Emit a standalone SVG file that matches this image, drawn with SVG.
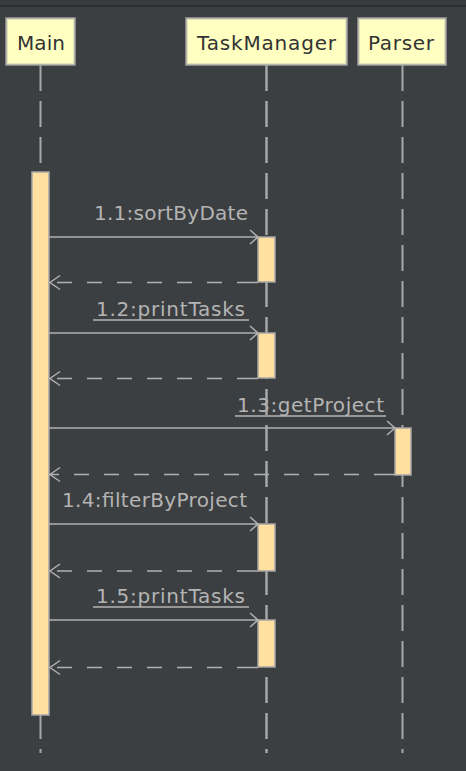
<svg xmlns="http://www.w3.org/2000/svg" width="466" height="771" viewBox="0 0 466 771">
<style>
.bg{fill:#3c3f41}
.box{fill:#ffffc2;stroke:#9e9e9e;stroke-width:1.5}
.boxin{fill:none;stroke:#e2e2bc;stroke-width:1}
.btxt{font-family:"DejaVu Sans",sans-serif;font-size:20px;fill:#333333}
.life{stroke:#a8a8a8;stroke-width:2;stroke-dasharray:26 10;fill:none}
.act{fill:#ffe0a0;stroke:#a6a6a6;stroke-width:1.5}
.msg{stroke:#b0b0b0;stroke-width:1.5;fill:none}
.ret{stroke:#b0b0b0;stroke-width:1.5;fill:none;stroke-dasharray:15 15}
.lbl{font-family:"DejaVu Sans",sans-serif;font-size:20px;fill:#b4b4b4}
.ul{stroke:#b4b4b4;stroke-width:1.5}
</style>
<rect class="bg" x="0" y="0" width="466" height="771"/>
<rect x="0" y="0" width="466" height="5" fill="#393b3e"/>
<rect x="0" y="5" width="466" height="2" fill="#2c2e30"/>

<g id="lifelines">
<path class="life" d="M40.5 65V753"/>
<path class="life" d="M266.5 65V753"/>
<path class="life" d="M402.5 65V753"/>
</g>

<g id="node-main">
<rect class="box" x="6" y="18" width="69" height="47"/>
<rect class="boxin" x="7.5" y="19.5" width="66" height="44"/>
<text class="btxt" x="17" y="50" textLength="48" lengthAdjust="spacing">Main</text>
</g>
<g id="node-taskmanager">
<rect class="box" x="186" y="18" width="161" height="47"/>
<rect class="boxin" x="187.5" y="19.5" width="158" height="44"/>
<text class="btxt" x="197" y="50" textLength="139" lengthAdjust="spacing">TaskManager</text>
</g>
<g id="node-parser">
<rect class="box" x="358" y="18" width="88" height="47"/>
<rect class="boxin" x="359.5" y="19.5" width="85" height="44"/>
<text class="btxt" x="368" y="50" textLength="66" lengthAdjust="spacing">Parser</text>
</g>

<g id="labels">
<text class="lbl" x="94" y="220" textLength="154" lengthAdjust="spacing">1.1:sortByDate</text>
<text class="lbl" x="96" y="316" textLength="149" lengthAdjust="spacing">1.2:printTasks</text>
<line class="ul" x1="93" y1="320" x2="249" y2="320"/>
<text class="lbl" x="237" y="412" textLength="147" lengthAdjust="spacing">1.3:getProject</text>
<line class="ul" x1="235" y1="416" x2="386" y2="416"/>
<text class="lbl" x="62" y="507" textLength="185" lengthAdjust="spacing">1.4:filterByProject</text>
<text class="lbl" x="96" y="603" textLength="149" lengthAdjust="spacing">1.5:printTasks</text>
<line class="ul" x1="93" y1="607" x2="249" y2="607"/>
</g>

<g id="lifelines-over">
<path class="life" d="M266.5 65V753" stroke-opacity="0.9"/>
</g>

<g id="activations">
<rect id="act-main" class="act" x="32" y="172" width="17" height="543"/>
<rect id="act-tm-1" class="act" x="258" y="237" width="17" height="45"/>
<rect id="act-tm-2" class="act" x="258" y="333" width="17" height="45"/>
<rect id="act-parser" class="act" x="395" y="428" width="16" height="47"/>
<rect id="act-tm-3" class="act" x="258" y="524" width="17" height="47"/>
<rect id="act-tm-4" class="act" x="258" y="620" width="17" height="47"/>
</g>

<g id="connectors">
<path class="msg" d="M49 237H258M250 230L258 237L250 244"/>
<path class="msg" d="M258 282.5H237"/>
<path class="ret" stroke-dashoffset="15" d="M237 282.5H50"/>
<path class="msg" d="M60 275.5L50 282.5L60 289.5"/>

<path class="msg" d="M49 333H258M250 326L258 333L250 340"/>
<path class="msg" d="M258 378.5H237"/>
<path class="ret" stroke-dashoffset="15" d="M237 378.5H50"/>
<path class="msg" d="M60 371.5L50 378.5L60 385.5"/>

<path class="msg" d="M49 428H395M387 421L395 428L387 435"/>
<path class="msg" d="M395 474.5H374"/>
<path class="ret" stroke-dashoffset="15" d="M374 474.5H50"/>
<path class="msg" d="M60 467.5L50 474.5L60 481.5"/>

<path class="msg" d="M49 524H258M250 517L258 524L250 531"/>
<path class="msg" d="M258 571H237"/>
<path class="ret" stroke-dashoffset="15" d="M237 571H50"/>
<path class="msg" d="M60 564L50 571L60 578"/>

<path class="msg" d="M49 620H258M250 613L258 620L250 627"/>
<path class="msg" d="M258 667.5H237"/>
<path class="ret" stroke-dashoffset="15" d="M237 667.5H50"/>
<path class="msg" d="M60 660.5L50 667.5L60 674.5"/>
</g>
</svg>
